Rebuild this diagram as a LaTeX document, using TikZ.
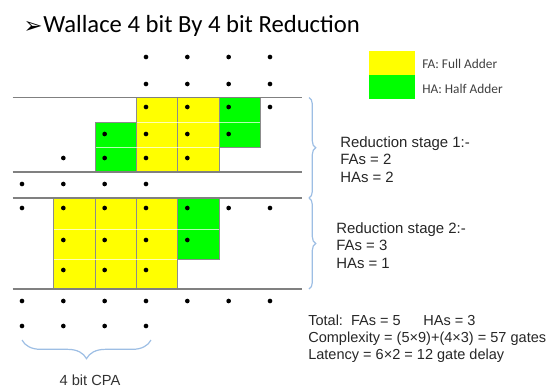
\documentclass[tikz,border=0pt]{standalone}
\usepackage{fontspec}
\setmainfont{Liberation Sans}
\newfontfamily\calib{Carlito}
\newfontfamily\dvs{DejaVu Sans}
\usetikzlibrary{calc}
\usetikzlibrary{decorations.pathreplacing}
\definecolor{faYellow}{RGB}{255,255,0}
\definecolor{haGreen}{RGB}{0,255,0}
\definecolor{braceBlue}{RGB}{157,190,228}
\definecolor{lineGray}{RGB}{128,128,128}

\begin{document}
\begin{tikzpicture}[x=0.75pt,y=-0.75pt]
    \tikzstyle{rowline}=[draw,line width=.9pt,lineGray]
    \tikzstyle{bitdot}=[circle,fill=black,inner sep=0pt,minimum size=3.5pt]
    \tikzstyle{fullcell}=[fill=faYellow,draw=black!45,line width=.6pt]
    \tikzstyle{halfcell}=[fill=haGreen,draw=black!45,line width=.6pt]
    \tikzstyle{rowgap}=[draw=white,line width=.6pt,opacity=.7]
    \tikzstyle{stagebrace}=[draw=braceBlue,line width=.9pt,decorate,decoration={brace,amplitude=5pt}]
    \tikzstyle{note}=[align=left,inner sep=0pt,font=\fontsize{11.2}{12.9}\selectfont,text=black!85]
    \useasboundingbox (0,0) rectangle (549,387);

    % title
    \node[anchor=base west,inner sep=0pt,font=\calib\fontsize{18.5}{20}\selectfont] (title) at (43,32) {Wallace 4 bit By 4 bit Reduction};
    \node[anchor=base east,inner sep=0pt,font=\dvs\fontsize{17}{18}\selectfont] (bullet) at ($(title.base west)+(0,1)$) {➢};

    % legend
    \node[fullcell,draw=none,minimum width=34.5pt,minimum height=18pt,inner sep=0pt] (fakey) at (392,63) {};
    \node[halfcell,draw=none,minimum width=34.5pt,minimum height=18pt,inner sep=0pt] (hakey) at (392,87) {};
    \node[anchor=west,inner sep=0pt,font=\calib\fontsize{10}{11}\selectfont,text=black!75] (falabel) at (422,64) {FA: Full Adder};
    \node[anchor=west,inner sep=0pt,font=\calib\fontsize{10}{11}\selectfont,text=black!75] (halabel) at (422,89) {HA: Half Adder};

    % stage 1 adders
    \filldraw[fullcell] (136.5,97.5) rectangle (177.8,172);
    \filldraw[fullcell] (177.8,97.5) rectangle (219.2,172);
    \filldraw[halfcell] (219.2,97.5) rectangle (260.5,147);
    \filldraw[halfcell] (95.2,122) rectangle (136.5,172);
    \draw[rowgap] (137,122) -- (260,122);
    \draw[rowgap] (95.7,147) -- (218.7,147);

    % stage 2 adders
    \filldraw[fullcell] (53.8,198) rectangle (95.2,289);
    \filldraw[fullcell] (95.2,198) rectangle (136.5,289);
    \filldraw[fullcell] (136.5,198) rectangle (177.8,289);
    \filldraw[halfcell] (177.8,198) rectangle (219.2,259);
    \draw[rowgap] (54.3,229) -- (218.7,229);
    \draw[rowgap] (54.3,259) -- (177.3,259);

    % separating lines
    \draw[rowline] (12.5,97.5) -- (302,97.5);
    \draw[rowline] (12.5,172) -- (302,172);
    \draw[rowline] (12.5,198) -- (302,198);
    \draw[rowline] (12.5,289) -- (302,289);

    % partial product bits
    \foreach \c in {4,...,7} \node[bitdot] (pp1-\c) at ({22+41.33*(\c-1)},57) {};
    \foreach \c in {4,...,7} \node[bitdot] (pp2-\c) at ({22+41.33*(\c-1)},84) {};
    \foreach \c in {4,...,7} \node[bitdot] (sa1-\c) at ({22+41.33*(\c-1)},107) {};
    \foreach \c in {3,...,6} \node[bitdot] (sa2-\c) at ({22+41.33*(\c-1)},134) {};
    \foreach \c in {2,...,5} \node[bitdot] (sa3-\c) at ({22+41.33*(\c-1)},158) {};
    \foreach \c in {1,...,4} \node[bitdot] (left-\c) at ({22+41.33*(\c-1)},184) {};
    \foreach \c in {1,...,7} \node[bitdot] (sb1-\c) at ({22+41.33*(\c-1)},208) {};
    \foreach \c in {2,...,5} \node[bitdot] (sb2-\c) at ({22+41.33*(\c-1)},240) {};
    \foreach \c in {2,...,4} \node[bitdot] (sb3-\c) at ({22+41.33*(\c-1)},270) {};
    \foreach \c in {1,...,7} \node[bitdot] (out1-\c) at ({22+41.33*(\c-1)},301) {};
    \foreach \c in {1,...,4} \node[bitdot] (out2-\c) at ({22+41.33*(\c-1)},326) {};

    % braces
    \coordinate (cpaL) at ($(out2-1)+(0,14)$);
    \coordinate (cpaR) at ($(out2-4)+(5,14)$);
    \draw[stagebrace] (309,97.5) -- (309,198);
    \draw[stagebrace] (309,198) -- (309,289);
    \draw[stagebrace,decoration={brace,amplitude=14pt,mirror}] (cpaL) -- (cpaR);
    \node[font=\fontsize{11}{12.9}\selectfont,text=black!80] (cpalabel) at (90,380) {4 bit CPA};

    % counts
    \node[note,anchor=base west] (stage1) at (340,182) {Reduction stage 1:-\\FAs = 2\\HAs = 2};
    \node[note,anchor=base west] (stage2) at (336,268) {Reduction stage 2:-\\FAs = 3\\HAs = 1};
    \node[note,anchor=base west,font=\fontsize{10.9}{12.4}\selectfont] (total) at (308,359) {Total:\ \ FAs = 5\hspace{17pt}HAs = 3\\Complexity = (5×9)+(4×3) = 57 gates\\Latency = 6×2 = 12 gate delay};
\end{tikzpicture}
\end{document}
